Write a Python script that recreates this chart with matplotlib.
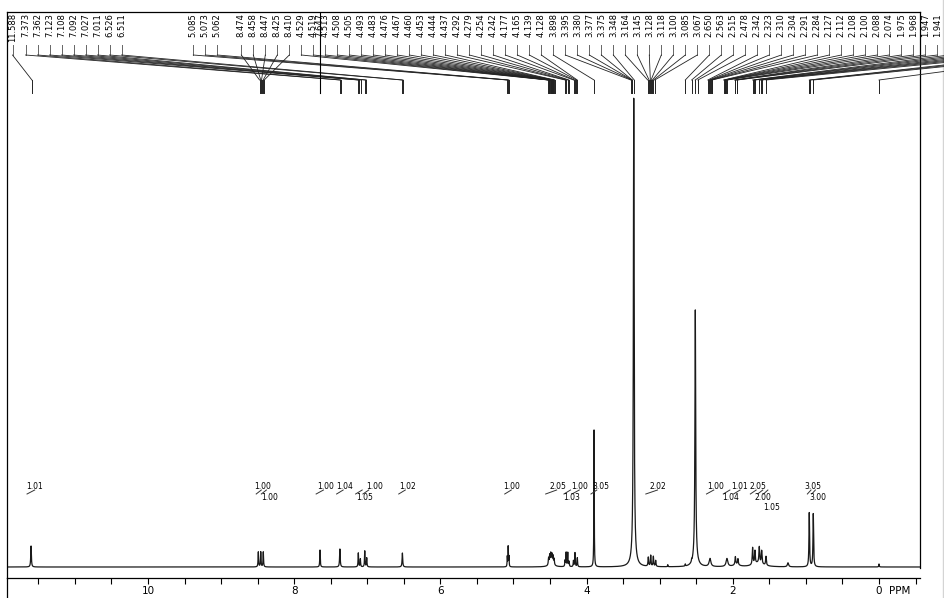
import numpy as np
import matplotlib
matplotlib.use("Agg")
import matplotlib.pyplot as plt

# ---------------- data ----------------
# spectrum peaks: position (ppm), height, half width (ppm)
peak_ppm = [11.600, 8.491, 8.458, 8.423, 7.647, 7.375, 7.123, 7.095, 7.035, 7.008,
            6.520, 5.085, 5.073, 5.062,
            4.520, 4.505, 4.490, 4.475, 4.460, 4.445, 4.480,
            4.295, 4.280, 4.258, 4.240, 4.180, 4.159, 4.127,
            3.898, 3.355, 3.355,
            3.156, 3.123, 3.087, 3.055, 2.890, 2.650, 2.563,
            2.513, 2.513, 2.312, 2.080, 1.965, 1.930, 1.950,
            1.729, 1.697, 1.638, 1.605, 1.546, 1.650, 1.245,
            0.954, 0.899, 0.000]
peak_height = [21, 15, 15, 15, 17, 18, 14, 8, 16, 9,
               14, 10, 20, 10,
               7, 9, 10, 9, 8, 6, 3,
               6, 14, 14, 5, 6, 14, 9,
               137, 455, 14,
               9, 11, 10, 6, 2, 2, 2,
               245, 12, 8, 8, 8, 6, 2,
               17, 13, 16, 13, 9, 4, 4,
               54, 53, 3]
peak_hwhm = [0.005, 0.004, 0.004, 0.004, 0.004, 0.005, 0.004, 0.004, 0.004, 0.004,
             0.005, 0.003, 0.003, 0.003,
             0.005, 0.005, 0.005, 0.005, 0.005, 0.005, 0.040,
             0.004, 0.004, 0.004, 0.004, 0.004, 0.004, 0.004,
             0.003, 0.006, 0.030,
             0.005, 0.005, 0.005, 0.005, 0.003, 0.003, 0.003,
             0.006, 0.030, 0.014, 0.014, 0.006, 0.006, 0.050,
             0.006, 0.006, 0.006, 0.006, 0.006, 0.080, 0.010,
             0.005, 0.005, 0.004]

# peak-pick labels (top), in display order
labels_a = ["11.588"]
labels_b = ["7.373", "7.362", "7.123", "7.108", "7.092", "7.027", "7.011", "6.526", "6.511"]
labels_c = ["5.085", "5.073", "5.062"]
labels_d = ["8.474", "8.458", "8.447", "8.425", "8.410",
            "4.529", "4.519", "4.513", "4.508", "4.505", "4.493", "4.483", "4.476", "4.467",
            "4.460", "4.453", "4.444", "4.437", "4.292", "4.279", "4.254", "4.242",
            "4.177", "4.165", "4.139", "4.128", "3.898", "3.395", "3.380", "3.377", "3.375",
            "3.348", "3.164", "3.145", "3.128", "3.118", "3.100", "3.085", "3.067",
            "2.650", "2.563", "2.515", "2.478", "2.342", "2.323", "2.310", "2.304", "2.291",
            "2.284", "2.127", "2.112", "2.108", "2.100", "2.088", "2.074", "1.975", "1.968",
            "1.947", "1.941"]
label_direct = "7.647"
offscreen_ppm = [1.729, 1.710, 1.697, 1.638, 1.620, 1.605, 1.546, 0.954, 0.940, 0.899, 0.000]

# integrals
int_text = ["1.01", "1.00", "1.00", "1.00", "1.04", "1.00", "1.05", "1.02", "1.00", "2.05",
            "1.00", "1.03", "3.05", "2.02", "1.00", "1.04", "1.01", "2.05", "2.00", "1.05",
            "3.05", "3.00"]
int_label_ppm = [11.546, 8.427, 8.338, 7.57, 7.305, 6.90, 7.03, 6.45, 5.025, 4.398,
                 4.094, 4.205, 3.806, 3.019, 2.239, 2.025, 1.906, 1.651, 1.583, 1.468,
                 0.899, 0.831]
int_row = [0, 0, 1, 0, 0, 0, 1, 0, 0, 0, 0, 1, 0, 0, 0, 1, 0, 0, 1, 2, 0, 1]
int_start = [11.655, 8.52, 8.45, 7.70, 7.42, 7.06, 7.16, 6.57, 5.12, 4.56,
             4.20, 4.31, 3.94, 3.19, 2.36, 2.13, 1.99, 1.76, 1.66, 1.58, 0.98, 0.92]
int_end = [11.55, 8.45, 8.38, 7.60, 7.33, 6.98, 7.07, 6.48, 5.03, 4.41,
           4.10, 4.22, 3.86, 3.03, 2.26, 2.04, 1.90, 1.68, 1.59, 1.52, 0.93, 0.87]

tick_values = np.arange(-0.5, 11.51, 0.5)
tick_labels_shown = {10: "10", 8: "8", 6: "6", 4: "4", 2: "2", 0: "0"}

# ---------------- figure ----------------
W, H = 945, 598
fig = plt.figure(figsize=(W / 100, H / 100), dpi=100)
fig.patch.set_facecolor("white")

ax = fig.add_axes([7 / W, 1 - 578 / H, 913 / W, 566 / H])
ax.set_xlim(11.929, -0.561)
ax.set_ylim(-11, 555)

xs = np.linspace(11.929, -0.561, 30000)
ys = np.zeros_like(xs)
for p, h, w in zip(peak_ppm, peak_height, peak_hwhm):
    ys += h * w ** 2 / ((xs - p) ** 2 + w ** 2)
ax.plot(xs, ys, color="#1a1a1a", lw=0.9)

ax.spines["right"].set_visible(False)
for s in ["left", "top", "bottom"]:
    ax.spines[s].set_linewidth(0.9)
ax.set_yticks([])
ax.set_xticks(tick_values)
ax.set_xticklabels([tick_labels_shown.get(int(v), "") if float(v).is_integer() else ""
                    for v in tick_values])
ax.tick_params(axis="x", direction="out", length=4.3, width=0.8, pad=1.5, labelsize=7.5)

# overlay in pixel coordinates
ov = fig.add_axes([0, 0, 1, 1])
ov.set_xlim(0, W)
ov.set_ylim(H, 0)
ov.axis("off")
ov.patch.set_alpha(0)


def px(ppm):
    return ax.transData.transform((ppm, 0))[0]


ov.plot([920, 920], [12, 568], color="black", lw=0.9)
ov.plot([7, 7], [578, 598], color="black", lw=0.9)
ov.plot([943, 943], [0, 598], color="#d4d4d4", lw=1.0)
ov.text(px(0) + 10, 586, "PPM", fontsize=7.5, va="top", ha="left")

# peak pick labels
slots = [(12.5, labels_a[0])]
slots += [(25.5 + 12 * i, t) for i, t in enumerate(labels_b)]
slots += [(193.3 + 12 * i, t) for i, t in enumerate(labels_c)]
slots += [(241.3 + 12 * i, t) for i, t in enumerate(labels_d)]

for lx, t in slots:
    pxv = px(float(t))
    ov.text(lx, 13, t, rotation=90, ha="center", va="top", fontsize=6)
    ov.plot([lx, lx], [45, 55], color="#666", lw=0.7)
    ov.plot([lx, pxv], [55, 80], color="#222", lw=0.6)
    ov.plot([pxv, pxv], [80, 93], color="#222", lw=0.7)

# label sitting directly above its peak
dx = px(float(label_direct))
ov.text(dx, 13, label_direct, rotation=90, ha="center", va="top", fontsize=6)
ov.plot([dx, dx], [13, 93], color="black", lw=0.8)

# lines coming from labels beyond the right edge
for i, p in enumerate(offscreen_ppm):
    lx = 241.3 + 12 * (len(labels_d) + i)
    pxv = px(p)
    ov.plot([lx, pxv], [55, 80], color="#222", lw=0.6)
    ov.plot([pxv, pxv], [80, 93], color="#222", lw=0.7)

# integrals
row_y = [486.5, 498, 507]
for t, lp, r, s, e in zip(int_text, int_label_ppm, int_row, int_start, int_end):
    ov.text(px(lp), row_y[r], t, ha="center", va="center", fontsize=5.5)
    ov.plot([px(s), px(e)], [494, 490], color="#333", lw=0.7)

fig.savefig("out.png", dpi=100)
